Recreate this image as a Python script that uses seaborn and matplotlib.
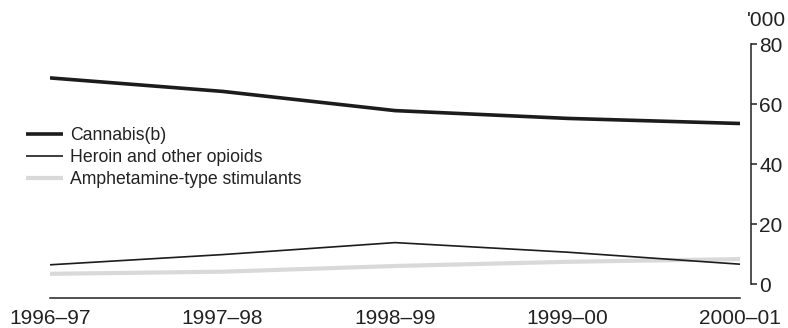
import pandas as pd
import matplotlib.pyplot as plt
import seaborn as sns

years = ['1996–97', '1997–98', '1998–99', '1999–00', '2000–01']
cannabis = [68.7, 64.2, 57.8, 55.2, 53.5]
heroin = [6.4, 9.8, 13.8, 10.6, 6.6]
amphetamine = [3.4, 4.1, 6.0, 7.4, 8.3]

series_names = ['Cannabis(b)', 'Heroin and other opioids', 'Amphetamine-type stimulants']
series_colors = ['#1e1b1c', '#1e1b1c', '#d9d9d9']
series_widths = [2.6, 1.2, 3.0]

sns.set_style('white')
plt.rcParams['font.family'] = ['Liberation Sans', 'DejaVu Sans']
plt.rcParams['font.size'] = 12.7

rows = []
for name, vals in zip(series_names, [cannabis, heroin, amphetamine]):
	for i, v in enumerate(vals):
		rows.append({'pos': i, 'year': years[i], 'value': v, 'series': name})
df = pd.DataFrame(rows)

fig = plt.figure(figsize=(7.88, 3.28), dpi=100)
ax = fig.add_axes([50/788, 44/328, 690/788, 240/328])

# draw in reverse so the dark lines sit on top of the grey one
for name, col, lw in reversed(list(zip(series_names, series_colors, series_widths))):
	sns.lineplot(data=df[df['series'] == name], x='pos', y='value', ax=ax,
		color=col, linewidth=lw, label=name, solid_capstyle='butt')

handles, labels = ax.get_legend_handles_labels()
order = [labels.index(n) for n in series_names]
ax.legend([handles[i] for i in order], [labels[i] for i in order],
	loc='upper left', bbox_to_anchor=(-0.045, 0.683), frameon=False,
	handlelength=2.1, handletextpad=0.4, labelspacing=0.29, borderaxespad=0,
	fontsize=12.7, labelcolor='#222222')

ax.set_xlim(0, 4)
ax.set_ylim(0, 80)
ax.set_xticks(range(len(years)))
ax.set_xticklabels(years)
ax.set_yticks([0, 20, 40, 60, 80])
ax.set_xlabel('')
ax.set_ylabel('')

ax.yaxis.tick_right()
for s in ['top', 'left']:
	ax.spines[s].set_visible(False)
ax.spines['right'].set_position(('outward', 8))
ax.spines['bottom'].set_position(('outward', 10))
for s in ['right', 'bottom']:
	ax.spines[s].set_color('#222222')
	ax.spines[s].set_linewidth(1.1)
ax.tick_params(axis='x', direction='out', length=5, width=1.1, color='#222222',
	labelsize=15, labelcolor='#222222', pad=3)
ax.tick_params(axis='y', direction='out', length=4, width=1.1, color='#222222',
	labelsize=15, labelcolor='#222222', pad=2, left=False, right=True)

fig.text(747/788, 1 - 21/328, "'000", ha='left', va='center', fontsize=15, color='#222222')

fig.savefig('out.png', dpi=100)
